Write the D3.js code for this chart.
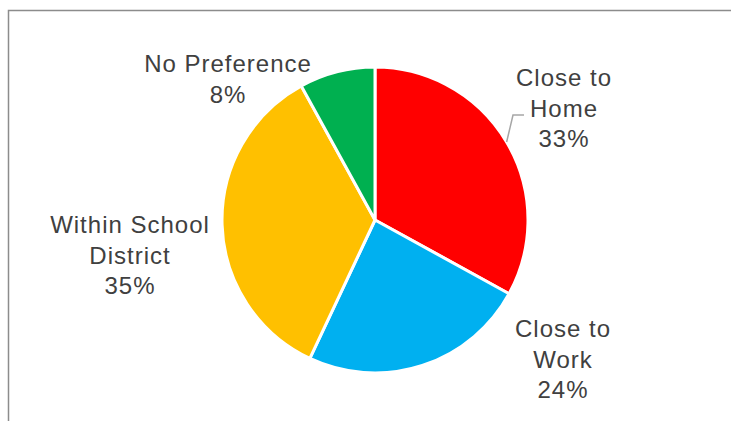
<!DOCTYPE html>
<html>
<head>
<meta charset="utf-8">
<script src="https://cdn.jsdelivr.net/npm/d3@7"></script>
<style>
  body { margin: 0; background: #fff; }
  .lbl { font-family: "Liberation Sans", Arial, sans-serif; font-size: 24px; fill: #404040; letter-spacing: 1px; }
</style>
</head>
<body>
<div class="pie-chart"></div>
<script>
const categories = ['Close to Home', 'Close to Work', 'Within School District', 'No Preference'];
const values = [33, 24, 35, 8];
const colors = ['#FF0000', '#00B0F0', '#FFC000', '#00B050'];
// label lines as they wrap in the original
const labelLines = [['Close to', 'Home'], ['Close to', 'Work'], ['Within School', 'District'], ['No Preference']];
const labelPos = [[564, 86], [563, 337], [130, 233], [228, 72]];

const svgWidth = 731;
const svgHeight = 421;
const cx = 375, cy = 220, radius = 153;
const lineH = 30.5;

const svg = d3.select('.pie-chart').append('svg')
  .attr('width', svgWidth)
  .attr('height', svgHeight);

// chart frame (cut off right and bottom)
svg.append('path')
  .attr('d', `M8.5,${svgHeight} V10.5 H${svgWidth}`)
  .attr('fill', 'none')
  .attr('stroke', '#8c8c8c')
  .attr('stroke-width', 1.5);

const data = categories.map((c, i) => ({ name: c, value: values[i], color: colors[i], lines: labelLines[i], pos: labelPos[i] }));

const pie = d3.pie().sort(null).value(d => d.value);
const arc = d3.arc().innerRadius(0).outerRadius(radius);
const arcs = pie(data);

const g = svg.append('g').attr('transform', `translate(${cx}, ${cy})`);

g.selectAll('path.slice')
  .data(arcs)
  .enter().append('path')
  .attr('class', 'slice')
  .attr('d', arc)
  .attr('fill', d => d.data.color)
  .attr('stroke', '#fff')
  .attr('stroke-width', 3)
  .attr('stroke-linejoin', 'round');

// leader line for Close to Home
const home = arcs[0];
const hitAngle = Math.asin((142 - cy) / -radius);
const edge = [cx + radius * Math.cos(-hitAngle), 142];
svg.append('path')
  .attr('d', `M${edge[0]},${edge[1]} L513,115 H524`)
  .attr('fill', 'none')
  .attr('stroke', '#a6a6a6')
  .attr('stroke-width', 1.5);

const labels = svg.selectAll('text.lbl')
  .data(arcs)
  .enter().append('text')
  .attr('class', 'lbl')
  .attr('text-anchor', 'middle');

labels.each(function (d) {
  const t = d3.select(this);
  const lines = d.data.lines.concat([`${d.data.value}%`]);
  lines.forEach((s, i) => {
    t.append('tspan')
      .attr('x', d.data.pos[0])
      .attr('y', d.data.pos[1] + i * lineH)
      .text(s);
  });
});
</script>
</body>
</html>
